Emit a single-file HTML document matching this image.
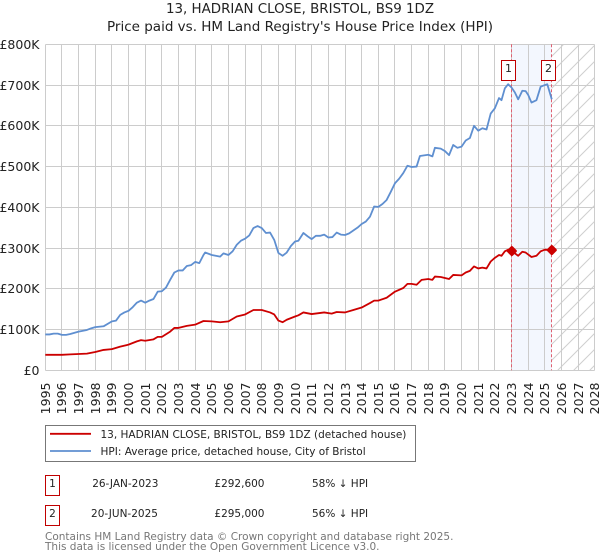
<!DOCTYPE html>
<html>
<head>
<meta charset="utf-8">
<title>13, Hadrian Close, Bristol price chart</title>
<style>
html,body{margin:0;padding:0;background:#fff;width:600px;height:560px;overflow:hidden}
svg{display:block;font-family:"DejaVu Sans","Liberation Sans",sans-serif}
</style>
</head>
<body>
<svg id="chart" xmlns="http://www.w3.org/2000/svg" width="600" height="560" viewBox="0 0 600 560">
  <defs>
    <pattern id="hatch" patternUnits="userSpaceOnUse" width="16" height="16">
      <path d="M-4 4L4 -4M0 16L16 0M12 20L20 12" stroke="#cfcfcf" stroke-width="1" fill="none"/>
    </pattern>
  </defs>
  <text x="300" y="13" text-anchor="middle" font-size="13.4" fill="#222">13, HADRIAN CLOSE, BRISTOL, BS9 1DZ</text>
  <text x="300" y="31" text-anchor="middle" font-size="13.5" fill="#222">Price paid vs. HM Land Registry's House Price Index (HPI)</text>
  <g id="shade"></g>
  <g id="grid"></g>
  <g id="saleLines"></g>
  <g id="series"></g>
  <g id="markers"></g>
  <g id="ylabels"></g>
  <g id="xlabels"></g>

  <g>
    <rect x="45.5" y="425.5" width="370" height="36" fill="#fff" stroke="#777" stroke-width="1"/>
    <line x1="50" x2="91" y1="433.8" y2="433.8" stroke="#cc0000" stroke-width="1.8"/>
    <text x="100.5" y="438" font-size="10.5" fill="#222">13, HADRIAN CLOSE, BRISTOL, BS9 1DZ (detached house)</text>
    <line x1="50" x2="91" y1="451" y2="451" stroke="#5f8fd0" stroke-width="1.8"/>
    <text x="100.5" y="455" font-size="10.5" fill="#222">HPI: Average price, detached house, City of Bristol</text>
  </g>

  <g font-size="10.5" fill="#222">
    <rect x="45.5" y="475.5" width="14" height="20" fill="#fff" stroke="#c00000" stroke-width="1"/>
    <text x="52.5" y="487" text-anchor="middle">1</text>
    <text x="125.3" y="487" text-anchor="middle">26-JAN-2023</text>
    <text x="264.5" y="487" text-anchor="end">£292,600</text>
    <text x="312" y="487">58% ↓ HPI</text>
    <rect x="45.5" y="505.5" width="14" height="20" fill="#fff" stroke="#c00000" stroke-width="1"/>
    <text x="52.5" y="517" text-anchor="middle">2</text>
    <text x="124.5" y="517" text-anchor="middle">20-JUN-2025</text>
    <text x="264.5" y="517" text-anchor="end">£295,000</text>
    <text x="312" y="517">56% ↓ HPI</text>
  </g>

  <g font-size="10.5" fill="#777">
    <text x="45" y="540">Contains HM Land Registry data © Crown copyright and database right 2025.</text>
    <text x="45" y="550">This data is licensed under the Open Government Licence v3.0.</text>
  </g>
</svg>
<script>
const xTickYears = [1995,1996,1997,1998,1999,2000,2001,2002,2003,2004,2005,2006,2007,2008,2009,2010,2011,2012,2013,2014,2015,2016,2017,2018,2019,2020,2021,2022,2023,2024,2025,2026,2027,2028];
const yTickValues = [0,100,200,300,400,500,600,700,800];
const yTickLabels = ['£0','£100K','£200K','£300K','£400K','£500K','£600K','£700K','£800K'];

const hpiDates = [1995,1995.25,1995.5,1995.75,1996,1996.25,1996.5,1997,1997.5,1997.75,1998,1998.5,1999,1999.25,1999.5,1999.75,2000,2000.25,2000.5,2000.75,2001,2001.25,2001.5,2001.75,2002,2002.25,2002.5,2002.75,2003,2003.25,2003.5,2003.75,2004,2004.25,2004.5,2004.6,2005,2005.5,2005.7,2006,2006.25,2006.5,2006.75,2007,2007.25,2007.5,2007.75,2008,2008.25,2008.5,2008.75,2009,2009.25,2009.5,2009.75,2010,2010.2,2010.5,2010.75,2011,2011.25,2011.5,2011.75,2012,2012.25,2012.5,2012.75,2013,2013.25,2013.5,2013.75,2014,2014.25,2014.5,2014.75,2015,2015.25,2015.5,2015.75,2016,2016.25,2016.5,2016.75,2017,2017.3,2017.5,2018,2018.25,2018.4,2018.75,2019,2019.25,2019.5,2019.75,2020,2020.25,2020.5,2020.75,2021,2021.25,2021.5,2021.75,2022,2022.25,2022.4,2022.6,2022.8,2023,2023.2,2023.4,2023.65,2023.85,2024,2024.2,2024.5,2024.75,2025,2025.15,2025.42];
const hpiValues = [88,88,90,90,87,87,89,95,99,103,106,108,120,122,136,142,146,155,166,171,166,171,175,193,194,203,222,240,245,245,256,258,266,263,283,289,283,279,287,283,292,308,318,323,331,349,354,349,337,338,320,288,281,289,305,316,318,337,329,322,330,330,333,326,327,338,333,332,336,343,350,359,365,377,402,401,408,418,438,459,470,484,502,499,500,526,529,525,546,544,538,528,553,546,549,564,570,600,588,594,591,630,643,668,663,692,702,694,682,665,686,685,676,657,663,696,700,702,665];

const priceDates = [1995,1996,1996.5,1997,1997.5,1998,1998.5,1999,1999.5,2000,2000.5,2000.75,2001,2001.5,2001.75,2002,2002.5,2002.75,2003,2003.5,2004,2004.5,2005,2005.5,2006,2006.5,2007,2007.5,2008,2008.5,2008.75,2009,2009.25,2009.5,2010,2010.2,2010.5,2011,2011.75,2012.2,2012.5,2013,2013.5,2014,2014.5,2014.75,2015,2015.5,2016,2016.5,2016.75,2017,2017.3,2017.6,2018,2018.25,2018.4,2018.75,2019.25,2019.5,2020,2020.25,2020.5,2020.75,2021,2021.25,2021.5,2021.75,2022,2022.25,2022.4,2022.6,2022.8,2023.02,2023.4,2023.65,2023.85,2024.2,2024.5,2024.75,2025,2025.42];
const priceValues = [38,38,39,40,41,45,50,52,58,63,71,74,72.5,76,82,82,95,104,104,109,112,121,120,118,120,132,137,148,148,142,137,122,118,124,132,135,142,138,142,139,143,142,148,154,165,171,171,178,193,202,212,212,210,222,224,222,230,229,224,234,233,240,244,255,250,252,250,267,276,283,281,292,296,292.6,281,291,289,278,281,292,296,295];

const saleDates = [2023.02,2025.42];
const saleValues = [292.6,295];
const saleNumbers = ['1','2'];

const NS = 'http://www.w3.org/2000/svg';
const xScale = d => 45.3 + (d - 1995) * 16.65;
const yScale = v => 370.3 - v * 0.4075;
const snap = p => Math.floor(p) + 0.5;
const make = (parent, tag) => { const el = document.createElementNS(NS, tag); document.getElementById(parent).appendChild(el); return el; };
const plotLeft = xScale(1995), plotRight = xScale(2028), plotTop = yScale(800), plotBottom = yScale(0);

const band = make('shade', 'rect');


band.setAttribute('x', xScale(saleDates[0]));
band.setAttribute('y', plotTop);
band.setAttribute('width', xScale(saleDates[1]) - xScale(saleDates[0]));
band.setAttribute('height', plotBottom - plotTop);
band.setAttribute('fill', '#f3f7fe');

const hatch = make('shade', 'rect');


hatch.setAttribute('x', xScale(saleDates[1]));
hatch.setAttribute('y', plotTop);
hatch.setAttribute('width', plotRight - xScale(saleDates[1]));
hatch.setAttribute('height', plotBottom - plotTop);
hatch.setAttribute('fill', 'url(#hatch)');

yTickValues.forEach((v, i) => {
  const line = make('grid', 'line');
  
  
  line.setAttribute('x1', snap(plotLeft));
  line.setAttribute('x2', snap(plotRight));
  line.setAttribute('y1', snap(yScale(v)));
  line.setAttribute('y2', snap(yScale(v)));
  line.setAttribute('stroke', '#cccccc');
  const label = make('ylabels', 'text');
  
  
  label.setAttribute('x', 39.5);
  label.setAttribute('y', snap(yScale(v)) + 4.5);
  label.setAttribute('text-anchor', 'end');
  label.setAttribute('font-size', '12.5');
  label.setAttribute('fill', '#222');
  label.textContent = yTickLabels[i];
});

xTickYears.forEach(year => {
  const gx = snap(xScale(year));
  const line = make('grid', 'line');
  
  
  line.setAttribute('x1', gx);
  line.setAttribute('x2', gx);
  line.setAttribute('y1', snap(plotTop));
  line.setAttribute('y2', snap(plotBottom));
  line.setAttribute('stroke', '#cccccc');
  const label = make('xlabels', 'text');
  
  
  label.setAttribute('transform', 'translate(' + (gx + 4.5) + ',382.5) rotate(-90)');
  label.setAttribute('text-anchor', 'end');
  label.setAttribute('font-size', '12.5');
  label.setAttribute('fill', '#222');
  label.textContent = String(year);
});

const pathFrom = (dates, values) => dates.map((d, i) => (i ? 'L' : 'M') + xScale(d).toFixed(2) + ' ' + yScale(values[i]).toFixed(2)).join('');

const hpiLine = make('series', 'path');


hpiLine.setAttribute('d', pathFrom(hpiDates, hpiValues));
hpiLine.setAttribute('fill', 'none');
hpiLine.setAttribute('stroke', '#5f8fd0');
hpiLine.setAttribute('stroke-width', '1.8');
hpiLine.setAttribute('stroke-linejoin', 'round');

const priceLine = make('series', 'path');


priceLine.setAttribute('d', pathFrom(priceDates, priceValues));
priceLine.setAttribute('fill', 'none');
priceLine.setAttribute('stroke', '#cc0000');
priceLine.setAttribute('stroke-width', '1.8');
priceLine.setAttribute('stroke-linejoin', 'round');

saleDates.forEach((d, i) => {
  const sx = xScale(d), sy = yScale(saleValues[i]);
  const dash = make('saleLines', 'line');
  
  
  dash.setAttribute('x1', snap(sx));
  dash.setAttribute('x2', snap(sx));
  dash.setAttribute('y1', plotTop);
  dash.setAttribute('y2', plotBottom);
  dash.setAttribute('stroke', '#e06070');
  dash.setAttribute('stroke-dasharray', '3 2');
  const dot = make('markers', 'path');
  
  
  dot.setAttribute('d', 'M' + sx + ' ' + (sy - 3.5) + 'L' + (sx + 3.5) + ' ' + sy + 'L' + sx + ' ' + (sy + 3.5) + 'L' + (sx - 3.5) + ' ' + sy + 'Z');
  dot.setAttribute('fill', '#cc0000');
  dot.setAttribute('stroke', '#cc0000');
  dot.setAttribute('stroke-width', '3');
  dot.setAttribute('stroke-linejoin', 'round');
  const box = make('markers', 'rect');
  
  
  box.setAttribute('x', snap(sx) - 10);
  box.setAttribute('y', 60.5);
  box.setAttribute('width', 14);
  box.setAttribute('height', 20);
  box.setAttribute('fill', '#fff');
  box.setAttribute('stroke', '#c00000');
  const num = make('markers', 'text');
  
  
  num.setAttribute('x', snap(sx) - 3);
  num.setAttribute('y', 72);
  num.setAttribute('text-anchor', 'middle');
  num.setAttribute('font-size', '11');
  num.setAttribute('fill', '#222');
  num.textContent = saleNumbers[i];
});
</script>
</body>
</html>
